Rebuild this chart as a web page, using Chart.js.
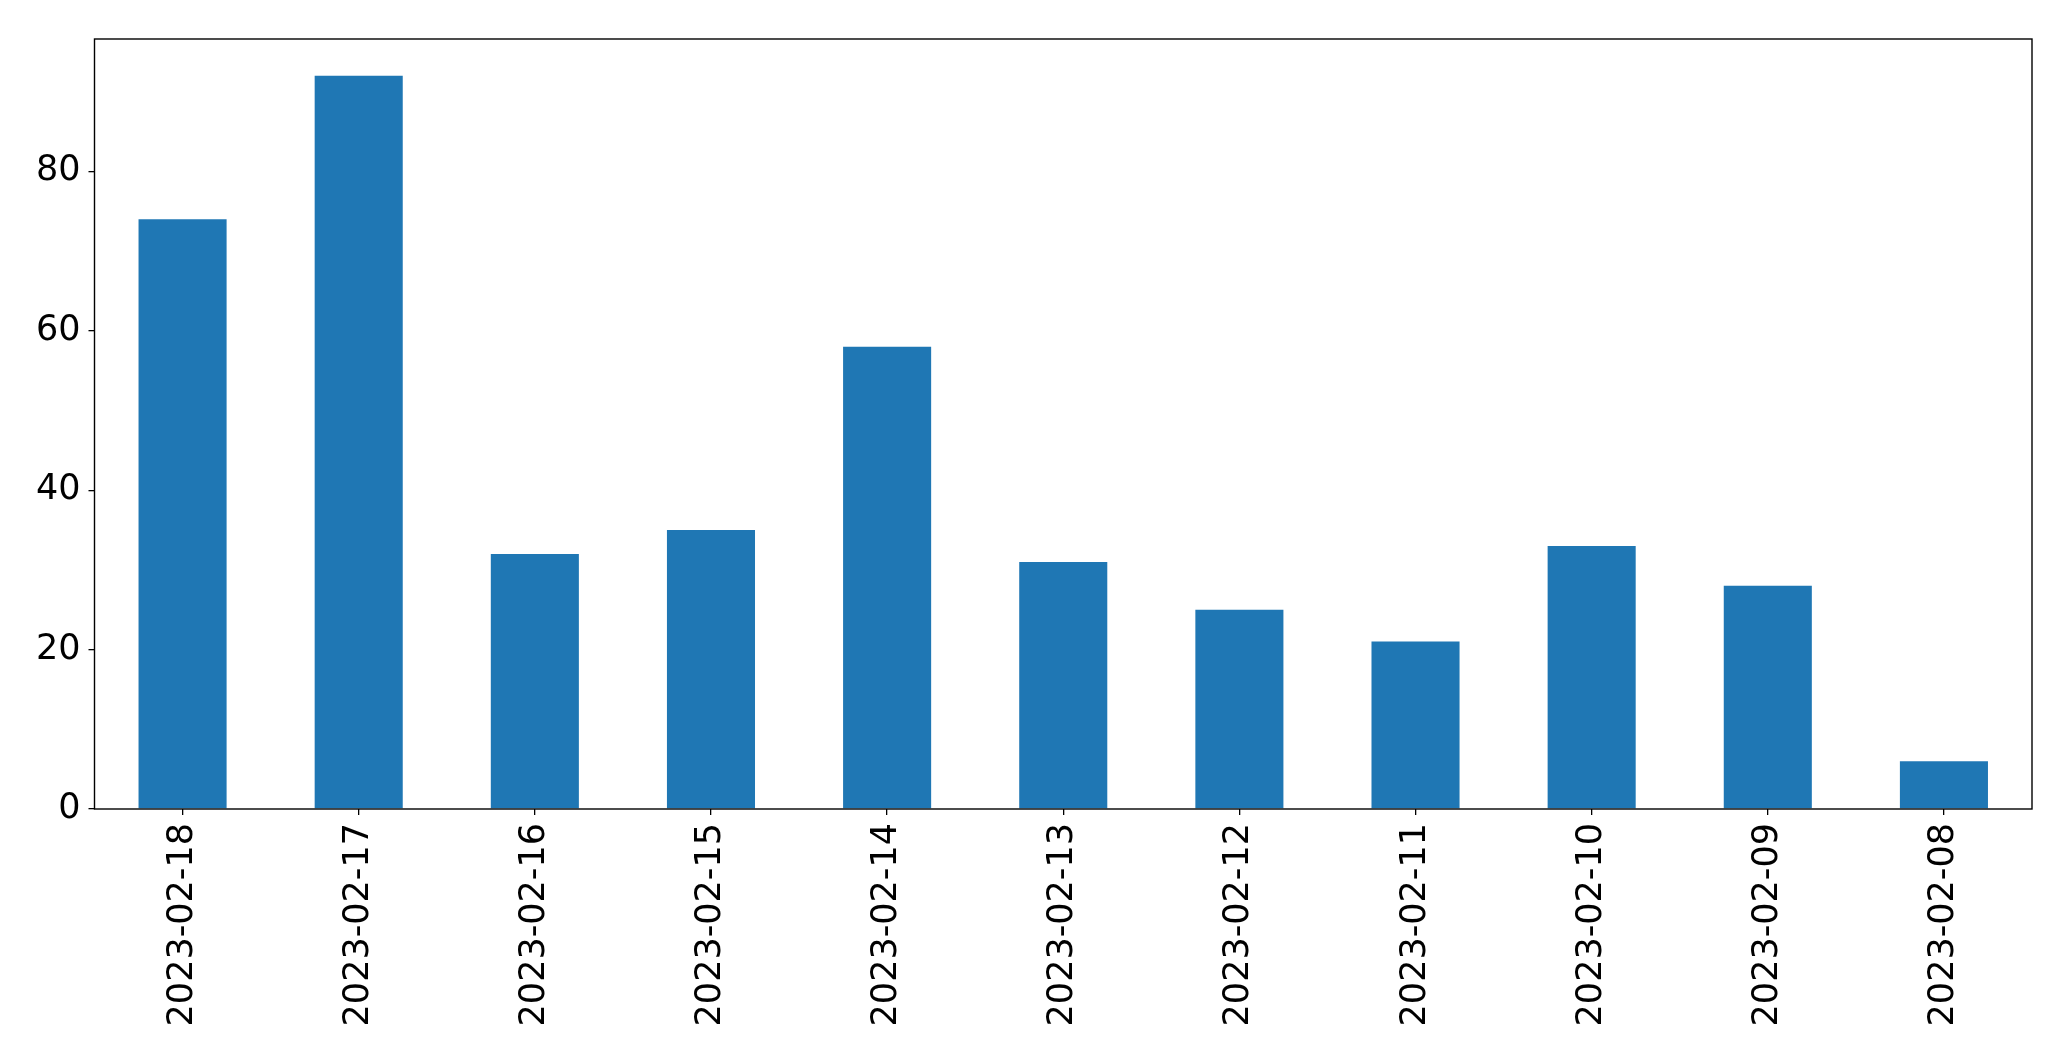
<!DOCTYPE html>
<html>
<head>
<meta charset="utf-8">
<script src="https://cdn.jsdelivr.net/npm/chart.js@4/dist/chart.umd.min.js"></script>
<style>
html,body{margin:0;padding:0;background:#fff;}
#wrap{width:2071px;height:1061px;position:relative;}
</style>
</head>
<body>
<div id="wrap"><canvas id="c" width="2071" height="1061"></canvas></div>
<script>
const categories = ["2023-02-18","2023-02-17","2023-02-16","2023-02-15","2023-02-14","2023-02-13","2023-02-12","2023-02-11","2023-02-10","2023-02-09","2023-02-08"];
const values = [74, 92, 32, 35, 58, 31, 25, 21, 33, 28, 6];
const yTicks = [0, 20, 40, 60, 80];

const frame = {
  id: 'frame',
  afterDraw(chart) {
    const a = chart.chartArea, ctx = chart.ctx;
    ctx.save();
    ctx.strokeStyle = '#000';
    ctx.lineWidth = 1.4;
    ctx.strokeRect(a.left, a.top, a.right - a.left, a.bottom - a.top);
    ctx.restore();
  }
};

new Chart(document.getElementById('c'), {
  type: 'bar',
  data: {
    labels: categories,
    datasets: [{
      data: values,
      backgroundColor: '#1f77b4',
      borderWidth: 0,
      categoryPercentage: 1.0,
      barPercentage: 0.5
    }]
  },
  options: {
    responsive: false,
    animation: false,
    devicePixelRatio: 1,
    layout: { padding: { top: 39, right: 39, left: 0, bottom: 0 } },
    plugins: { legend: { display: false }, tooltip: { enabled: false } },
    scales: {
      x: {
        offset: true,
        grid: { display: true, offset: false, drawOnChartArea: false, tickLength: 6, color: '#000', lineWidth: 1.3 },
        border: { display: false },
        ticks: {
          color: '#000',
          font: { family: 'DejaVu Sans', size: 35 },
          maxRotation: 90, minRotation: 90,
          padding: 8,
          autoSkip: false
        },
        afterFit(s) { s.height = 252; }
      },
      y: {
        min: 0, max: 96.6,
        grid: { display: true, drawOnChartArea: false, tickLength: 6, color: '#000', lineWidth: 1.3 },
        border: { display: false },
        afterBuildTicks(s) { s.ticks = yTicks.map(v => ({ value: v })); },
        ticks: {
          color: '#000',
          font: { family: 'DejaVu Sans', size: 35 },
          padding: 8,
          includeBounds: false
        },
        afterFit(s) { s.width = 94.5; }
      }
    }
  },
  plugins: [frame]
});
</script>
</body>
</html>
